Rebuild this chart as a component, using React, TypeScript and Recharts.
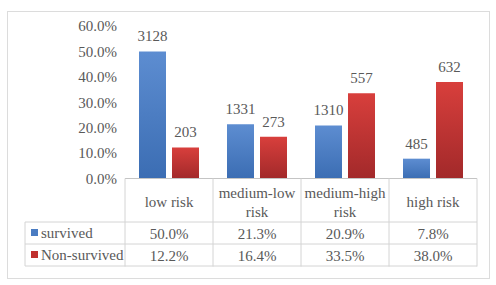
import { BarChart, Bar, XAxis, YAxis, LabelList } from 'recharts'

const categories = ['low risk', 'medium-low risk', 'medium-high risk', 'high risk']
const survivedPct = [0.5, 0.213, 0.209, 0.078]
const nonSurvivedPct = [0.122, 0.164, 0.335, 0.38]
const survivedCount = [3128, 1331, 1310, 485]
const nonSurvivedCount = [203, 273, 557, 632]
const yTicks = [0, 0.1, 0.2, 0.3, 0.4, 0.5, 0.6]

const data = categories.map((name, i) => ({
  name,
  survived: survivedPct[i],
  nonSurvived: nonSurvivedPct[i],
  survivedN: survivedCount[i],
  nonSurvivedN: nonSurvivedCount[i],
}))

const FONT = 'Liberation Serif, DejaVu Serif, serif'
const TEXT = '#595959'
const GRID = '#d4d4d4'
const COL = 88
const pct = (v: number) => `${(v * 100).toFixed(1)}%`
const txt = { fontFamily: FONT, fontSize: 15, fill: TEXT }

// header lines: wrap the two long labels after the hyphenated word
const headerLines = (s: string) => (s.includes('-') ? s.split(' ') : [s])

function TableTick(props: any) {
  const { x, y, payload, index } = props
  const lines = headerLines(payload.value)
  const left = x - COL / 2
  const right = x + COL / 2
  return (
    <g>
      {index === 0 && <line x1={left} x2={left} y1={y} y2={y + 88} stroke={GRID} />}
      <line x1={right} x2={right} y1={y} y2={y + 88} stroke={GRID} />
      {lines.map((l, i) => (
        <text key={l} style={txt} x={x} y={lines.length === 1 ? y + 23.5 : y + 14 + i * 19} textAnchor="middle" dominantBaseline="central">
          {l}
        </text>
      ))}
      <text style={txt} x={x} y={y + 55} textAnchor="middle" dominantBaseline="central">{pct(survivedPct[index])}</text>
      <text style={txt} x={x} y={y + 77} textAnchor="middle" dominantBaseline="central">{pct(nonSurvivedPct[index])}</text>
    </g>
  )
}

export default function App() {
  return (
    <div style={{ position: 'absolute', left: 0, top: 0, width: 496, height: 285, background: '#fff', fontFamily: FONT }}>
      <div style={{ position: 'absolute', left: 7, top: 11, width: 481, height: 266, border: '1px solid #dcdcdc' }} />
      <svg width={496} height={285} style={{ position: 'absolute', left: 0, top: 0 }}>
        <g stroke={GRID}>
          <line x1={25} x2={477} y1={222} y2={222} />
          <line x1={25} x2={477} y1={244} y2={244} />
          <line x1={25} x2={477} y1={266} y2={266} />
          <line x1={25} x2={25} y1={222} y2={266} />
        </g>
        <rect x={31} y={229} width={7} height={7} fill="#4a7cc2" />
        <rect x={31} y={251} width={7} height={7} fill="#c0302e" />
        <text style={txt} x={41} y={233} dominantBaseline="central">survived</text>
        <text style={txt} x={41} y={255} dominantBaseline="central">Non-survived</text>
      </svg>
      <div style={{ position: 'absolute', left: 0, top: 0 }}>
        <BarChart width={496} height={285} data={data} margin={{ top: 26, right: 19, left: 0, bottom: 6.5 }} barSize={27} barGap={6}>
          <defs>
            <linearGradient id="blueGrad" x1="0" y1="0" x2="0" y2="1">
              <stop offset="0%" stopColor="#5d8dd1" />
              <stop offset="100%" stopColor="#3b6db3" />
            </linearGradient>
            <linearGradient id="redGrad" x1="0" y1="0" x2="0" y2="1">
              <stop offset="0%" stopColor="#d83f3c" />
              <stop offset="100%" stopColor="#a2292a" />
            </linearGradient>
          </defs>
          <YAxis
            domain={[0, 0.6]}
            ticks={yTicks}
            tickFormatter={pct}
            width={125}
            axisLine={false}
            tickLine={false}
            tick={txt}
          />
          <XAxis
            dataKey="name"
            height={100}
            tickSize={0}
            tickMargin={0}
            interval={0}
            axisLine={{ stroke: '#c4c4c4' }}
            tickLine={false}
            tick={<TableTick />}
          />
          <Bar dataKey="survived" fill="url(#blueGrad)" isAnimationActive={false}>
            <LabelList dataKey="survivedN" position="top" offset={10} style={txt} />
          </Bar>
          <Bar dataKey="nonSurvived" fill="url(#redGrad)" isAnimationActive={false}>
            <LabelList dataKey="nonSurvivedN" position="top" offset={10} style={txt} />
          </Bar>
        </BarChart>
      </div>
    </div>
  )
}
